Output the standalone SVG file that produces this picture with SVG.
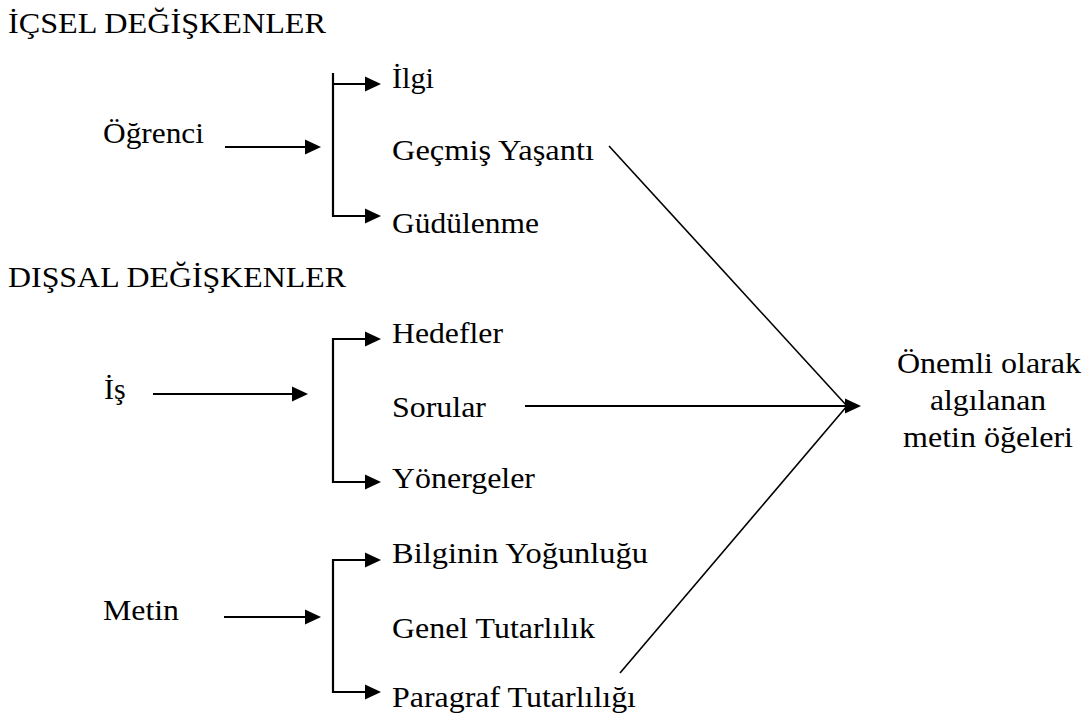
<svg xmlns="http://www.w3.org/2000/svg" width="1087" height="720" viewBox="0 0 1087 720">
<style>
text{font-family:"Liberation Serif","Times New Roman",serif;font-size:30px;fill:#000}
.c{stroke:#000;stroke-width:2.2;fill:none}
.d{stroke:#000;stroke-width:1.6;fill:none}
.m{text-anchor:middle}
</style>
<defs>
<marker id="ah" markerUnits="userSpaceOnUse" markerWidth="16" markerHeight="16" refX="12" refY="7.5" orient="auto" viewBox="0 0 16 15">
<path d="M0,0 L16,7.5 L0,15 z" fill="#000"/>
</marker>
</defs>
<rect width="1087" height="720" fill="#fff"/>
<g id="heading-icsel"><text x="8" y="33" textLength="318" lengthAdjust="spacingAndGlyphs">İÇSEL DEĞİŞKENLER</text></g>
<g id="heading-dissal"><text x="8" y="287" textLength="338" lengthAdjust="spacingAndGlyphs">DIŞSAL DEĞİŞKENLER</text></g>
<g id="ogrenci"><text x="103" y="143" textLength="101" lengthAdjust="spacingAndGlyphs">Öğrenci</text></g>
<g id="is"><text x="104" y="399">İş</text></g>
<g id="metin"><text x="103" y="620" textLength="76" lengthAdjust="spacingAndGlyphs">Metin</text></g>
<g id="ilgi"><text x="392" y="88" textLength="42" lengthAdjust="spacingAndGlyphs">İlgi</text></g>
<g id="gecmis"><text x="392" y="160" textLength="202" lengthAdjust="spacingAndGlyphs">Geçmiş Yaşantı</text></g>
<g id="gudulenme"><text x="392" y="233" textLength="147" lengthAdjust="spacingAndGlyphs">Güdülenme</text></g>
<g id="hedefler"><text x="392" y="343" textLength="111" lengthAdjust="spacingAndGlyphs">Hedefler</text></g>
<g id="sorular"><text x="392" y="417" textLength="94" lengthAdjust="spacingAndGlyphs">Sorular</text></g>
<g id="yonergeler"><text x="392" y="488" textLength="143" lengthAdjust="spacingAndGlyphs">Yönergeler</text></g>
<g id="bilgi"><text x="392" y="563" textLength="256" lengthAdjust="spacingAndGlyphs">Bilginin Yoğunluğu</text></g>
<g id="genel"><text x="392" y="638" textLength="203" lengthAdjust="spacingAndGlyphs">Genel Tutarlılık</text></g>
<g id="paragraf"><text x="392" y="707" textLength="244" lengthAdjust="spacingAndGlyphs">Paragraf Tutarlılığı</text></g>
<g id="sonuc">
<text x="897" y="373" textLength="184" lengthAdjust="spacingAndGlyphs">Önemli olarak</text>
<text x="930" y="410" textLength="116" lengthAdjust="spacingAndGlyphs">algılanan</text>
<text x="903" y="447" textLength="170" lengthAdjust="spacingAndGlyphs">metin öğeleri</text>
</g>
<g id="connectors">
<line class="c" x1="225" y1="147" x2="317" y2="147" marker-end="url(#ah)"/>
<path class="c" d="M333,73 V217"/>
<path class="c" d="M333,84 H377" marker-end="url(#ah)"/>
<path class="c" d="M333,216 H377" marker-end="url(#ah)"/>
<line class="c" x1="153" y1="394" x2="304" y2="394" marker-end="url(#ah)"/>
<path class="c" d="M333,338 V483"/>
<path class="c" d="M332,339 H377" marker-end="url(#ah)"/>
<path class="c" d="M332,482 H377" marker-end="url(#ah)"/>
<line class="c" x1="224" y1="617" x2="317" y2="617" marker-end="url(#ah)"/>
<path class="c" d="M333,559 V693"/>
<path class="c" d="M332,560 H377" marker-end="url(#ah)"/>
<path class="c" d="M332,692 H377" marker-end="url(#ah)"/>
<line class="d" x1="609" y1="146" x2="847" y2="406"/>
<line class="d" x1="620" y1="673" x2="847" y2="406"/>
<line class="c" x1="525" y1="406" x2="857" y2="406" marker-end="url(#ah)"/>
</g>
</svg>
